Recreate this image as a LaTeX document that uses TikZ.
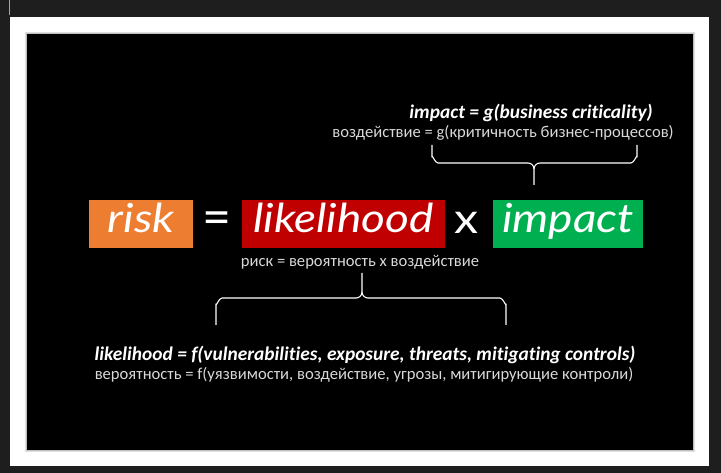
\documentclass[tikz,border=0pt]{standalone}
\usepackage{fontspec}
\setmainfont{Carlito}[RawFeature=-liga]
\newfontfamily\hand{Lato}[FakeStretch=1.15]
\newfontfamily\opfont{Lato}
\definecolor{frame}{HTML}{1E1E1E}
\definecolor{orangebox}{HTML}{ED7D31}
\definecolor{redbox}{HTML}{C00000}
\definecolor{greenbox}{HTML}{00B050}
\definecolor{rutext}{HTML}{D9D9D9}
\tikzset{
  termbox/.style={inner sep=0pt, minimum height=48pt, text height=24pt, text depth=6pt,
    text=white, font=\hand\itshape\fontsize{40}{40}\selectfont},
  opsym/.style={inner sep=0pt, text height=24pt, text depth=6pt,
    text=white, font=\opfont\fontsize{50}{50}\selectfont},
  timessym/.style={inner sep=0pt, text height=24pt, text depth=6pt,
    text=white, font=\hand\fontsize{42}{42}\selectfont},
  formula/.style={inner sep=0pt, text=white, font=\bfseries\itshape\fontsize{19.4}{19.4}\selectfont},
  rutxt/.style={inner sep=0pt, text=rutext, font=\fontsize{16.6}{16.6}\selectfont},
  bracepath/.style={draw=white, line width=1.1pt, line join=round}
}
\begin{document}
\begin{tikzpicture}[x=1pt,y=-1pt]
\useasboundingbox (0,0) rectangle (721,473);
\fill[frame] (0,0) rectangle (721,473);
\draw[gray!70, line width=0.8pt] (9.5,0) -- (9.5,15);
\fill[white] (10,17) rectangle (709,466);
\fill[black!12] (25,32) rectangle (695,452);
\fill[black!25] (26,33) rectangle (694,451);
\fill[black] (27,34) rectangle (693,450);

% terms
\node[termbox, fill=orangebox, minimum width=104pt] (risk) at (141,224) {risk};
\node[opsym] (eq) at (216.5,226) {=};
\node[termbox, fill=redbox, minimum width=203pt] (lik) at (343.5,224) {likelihood};
\node[timessym] (times) at (466.5,225) {x};
\node[termbox, fill=greenbox, minimum width=150pt] (imp) at (568,224) {impact};

% impact formula
\node[formula] (impf) at (531,113) {impact = g(business criticality)};
\node[rutxt] (impr) at (503,133) {воздействие = g(критичность бизнес-процессов)};

% middle text
\node[rutxt] (riskr) at (360,262) {риск = вероятность х воздействие};

% likelihood formula
\node[formula] (likf) at (365,355) {likelihood = f(vulnerabilities, exposure, threats, mitigating controls)};
\node[rutxt] (likr) at (364,375) {вероятность = f(уязвимости, воздействие, угрозы, митигирующие контроли)};

% upper brace
\coordinate (ubL) at (432,145);
\coordinate (ubR) at (637,145);
\coordinate (ubT) at (534,185);
\draw[bracepath] (ubL) -- (432,157) to[out=90,in=180] (438,163) -- (528,163)
  to[out=0,in=90] (534,169) -- (ubT);
\draw[bracepath] (ubR) -- (637,157) to[out=90,in=0] (631,163) -- (540,163)
  to[out=180,in=90] (534,169);

% lower brace
\coordinate (lbL) at (216,325);
\coordinate (lbR) at (506,325);
\coordinate (lbT) at (362,273);
\draw[bracepath] (lbL) -- (216,304) to[out=-90,in=180] (222,298) -- (356,298)
  to[out=0,in=-90] (362,292) -- (lbT);
\draw[bracepath] (lbR) -- (506,304) to[out=-90,in=0] (500,298) -- (368,298)
  to[out=180,in=-90] (362,292);
\end{tikzpicture}
\end{document}
